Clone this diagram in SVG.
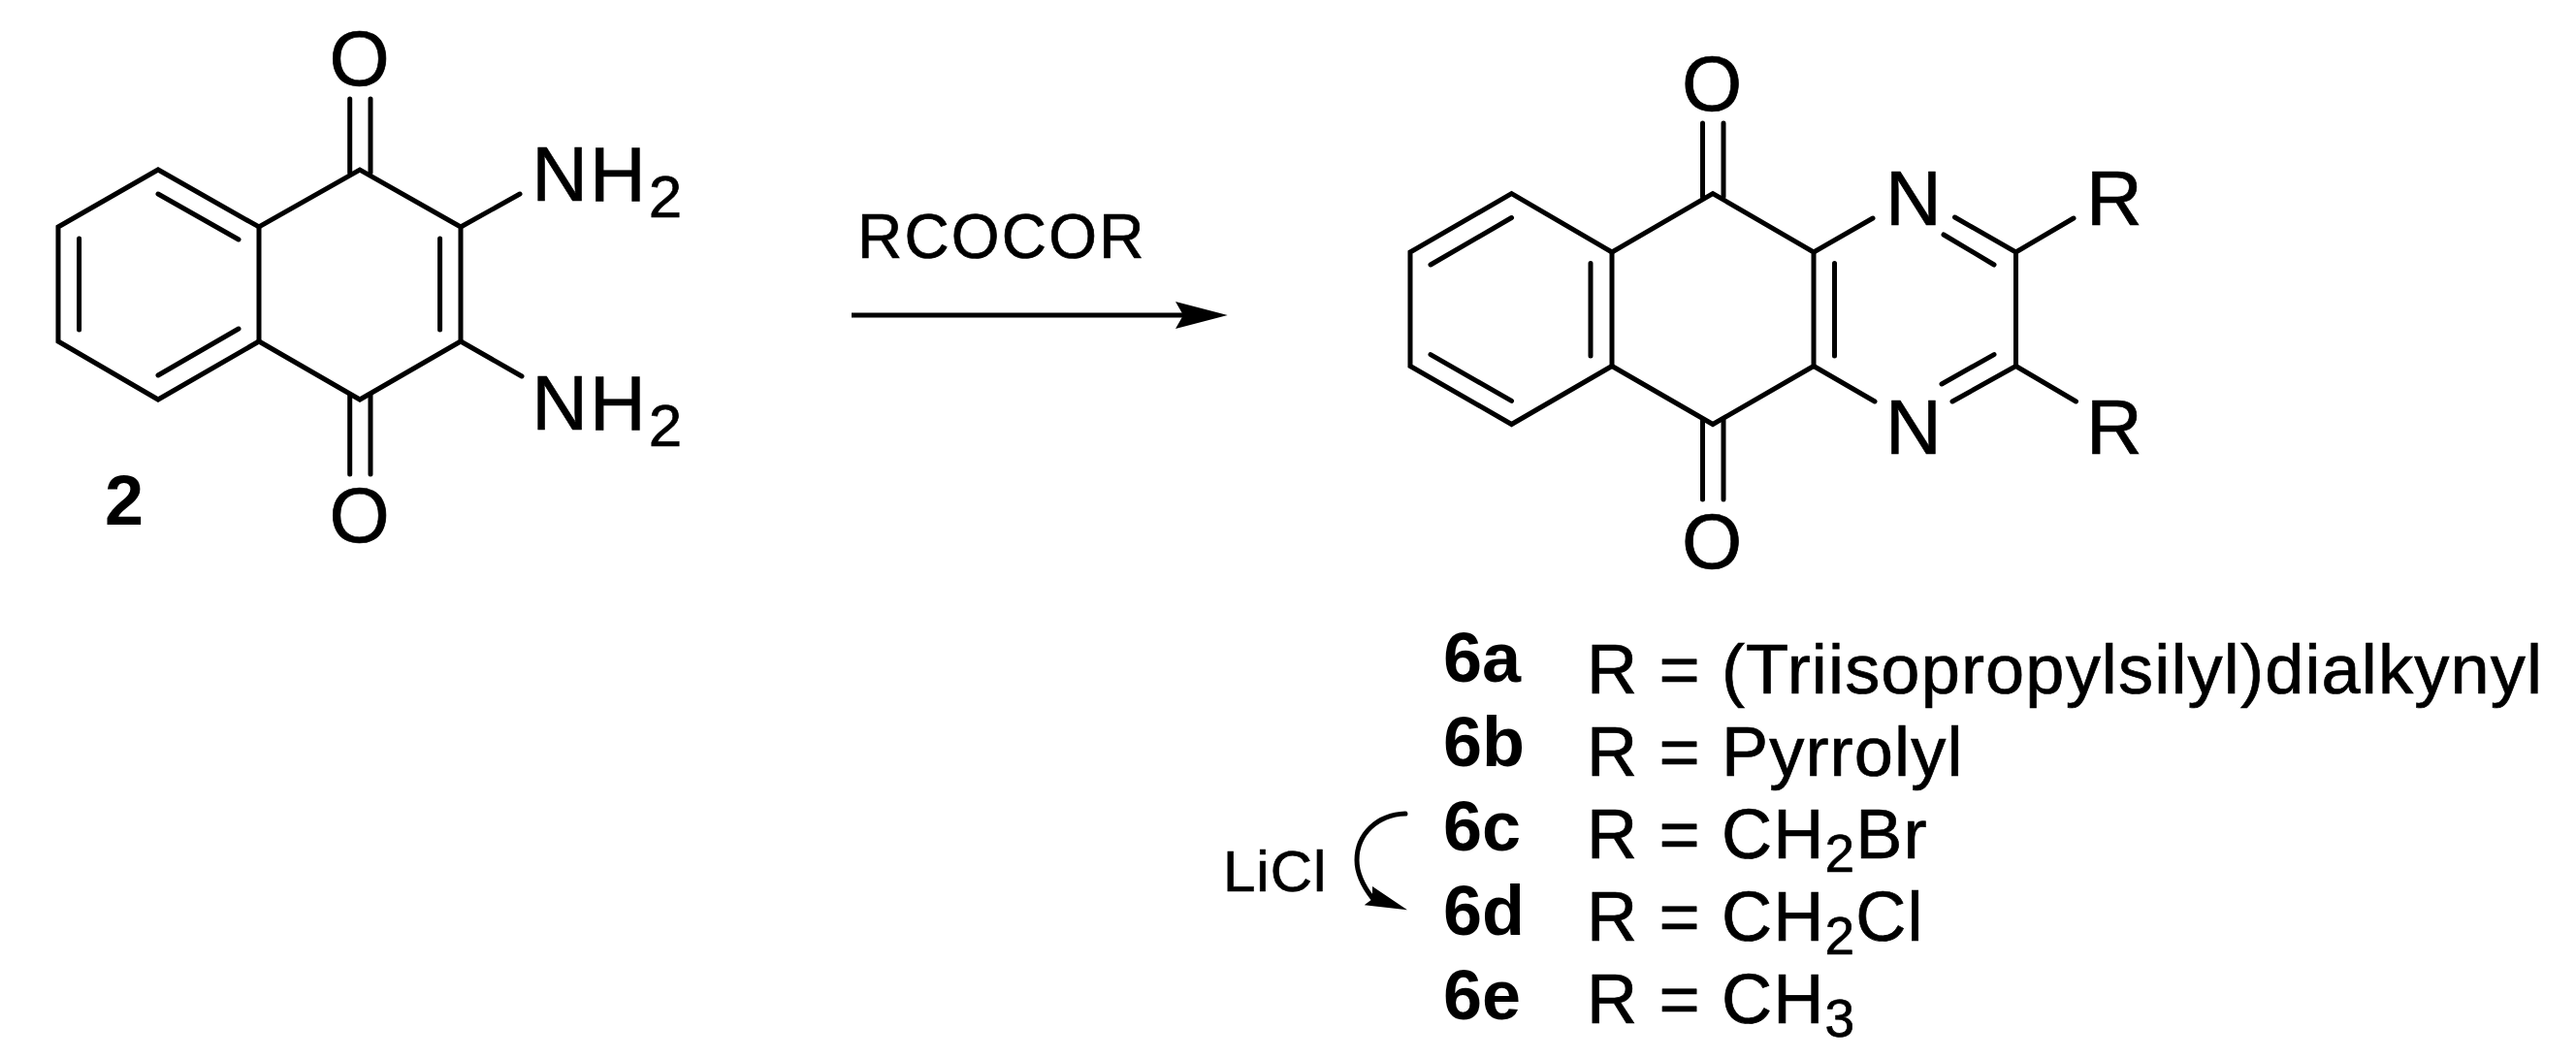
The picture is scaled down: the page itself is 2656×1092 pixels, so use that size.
<svg xmlns="http://www.w3.org/2000/svg" width="2656" height="1092" viewBox="0 0 2656 1092">
<style>
.b{fill:none;stroke:#000;stroke-width:5;stroke-linecap:round;stroke-linejoin:miter}
.a{fill:none;stroke:#000;stroke-width:5}
.h{fill:#000;stroke:none}
text{font-family:"Liberation Sans",Arial,sans-serif;fill:#000;stroke:#000;stroke-width:.7px}
.atom{font-size:80px;letter-spacing:2px}
.sub{font-size:62px}
.r{font-size:72.200px;letter-spacing:1.130px}
.rs{font-size:55px}
.bold{font-size:72px;font-weight:700;stroke:none}
</style>
<rect width="2656" height="1092" fill="#fff"/>
<g id="compound-2">
<path class="b" d="M60 234L163 175L267 234L371 175L475 234L475 352L371 412L267 352L163 412L60 352Z"/>
<path class="b" d="M267 234V352M81.600 246V340M163 200L246 247M163 387L246 339M453.600 246V340M360.700 102V178M382 102V178M360.700 407V489M382 407V489M475 234L536 200M475 352L538 388"/>
<text class="atom" x="371.500" y="88" text-anchor="middle">O</text>
<text class="atom" x="371.500" y="559" text-anchor="middle">O</text>
<text class="atom" x="548.200" y="206.700">NH</text><text class="sub" x="668.800" y="224.300">2</text>
<text class="atom" x="548.200" y="442.700">NH</text><text class="sub" x="668.800" y="460.300">2</text>
<text class="bold" x="108" y="541">2</text>
</g>
<g id="compound-6">
<path class="b" d="M1454 260L1558.500 199.600L1662 260L1766 199.600L1870 260V377.500L1766 437.500L1662 377.500L1558.500 437.500L1454 377.500Z"/>
<path class="b" d="M1662 260V377.500M1475 273L1558.500 224.500M1475 365.600L1558.500 413.400M1640 271.500V367M1891.500 271.500V367M1755.500 127V203M1777 127V203M1755.500 433V515M1777 433V515M1870 260L1931 225M1870 377.500L1933 414M2015.500 224L2078.500 260V377.500L2013 414M2004 242L2056 273M2002 396L2056 365.600M2078.500 260L2138 225M2078.500 377.500L2140.500 414"/>
<text class="atom" x="1766" y="114" text-anchor="middle">O</text>
<text class="atom" x="1766" y="586" text-anchor="middle">O</text>
<text class="atom" x="1944" y="231.600">N</text>
<text class="atom" x="1944" y="468.400">N</text>
<text class="atom" x="2151" y="231.600">R</text>
<text class="atom" x="2151" y="468.400">R</text>
</g>
<g id="reagents">
<text x="884" y="266" font-size="64" letter-spacing="2.200">RCOCOR</text>
<text x="1261" y="919" font-size="60" letter-spacing="1">LiCl</text>
</g>
<g id="key">
<text class="bold" x="1488" y="703">6a</text>
<text class="bold" x="1488" y="790">6b</text>
<text class="bold" x="1488" y="877">6c</text>
<text class="bold" x="1488" y="964">6d</text>
<text class="bold" x="1488" y="1051">6e</text>
<text class="r" x="1636" y="715">R = (Triisopropylsilyl)dialkynyl</text>
<text class="r" x="1636" y="800">R = Pyrrolyl</text>
<text class="r" x="1636" y="885">R = CH<tspan class="rs" dy="14.300">2</tspan><tspan dy="-14.300">Br</tspan></text>
<text class="r" x="1636" y="970">R = CH<tspan class="rs" dy="14.300">2</tspan><tspan dy="-14.300">Cl</tspan></text>
<text class="r" x="1636" y="1055">R = CH<tspan class="rs" dy="14.300">3</tspan></text>
</g>
<g id="connectors">
<path class="a" d="M878 325H1222"/>
<polygon class="h" points="1265.700,325 1212,311 1220,325 1212,339"/>
<path class="a" stroke-linecap="round" d="M1449 839C1420 840 1399 860 1399 887C1399 900 1405 913 1415 926"/>
<polygon class="h" points="1451,938.300 1415,914 1415,927 1406.700,933.300"/>
</g>
</svg>
